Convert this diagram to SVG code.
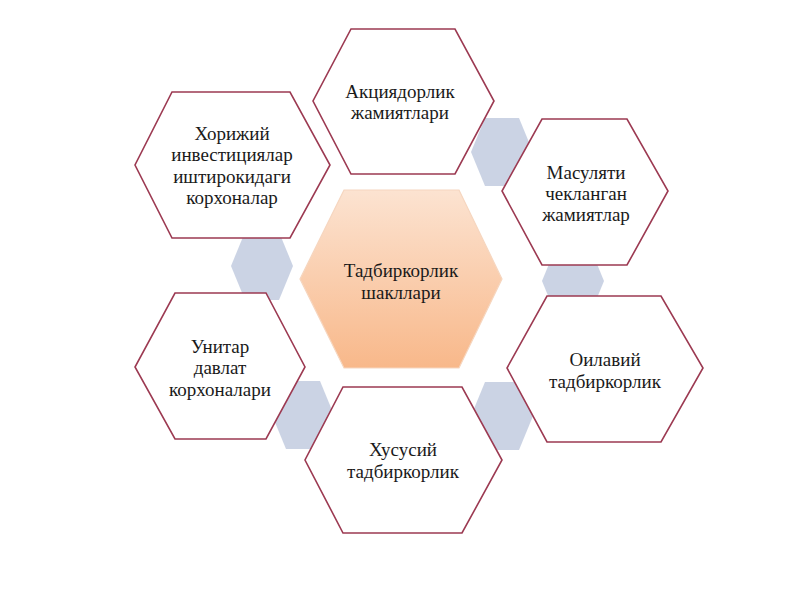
<svg xmlns="http://www.w3.org/2000/svg" width="800" height="600" viewBox="0 0 800 600">
  <defs>
    <linearGradient id="gc" x1="0" y1="0" x2="0" y2="1">
      <stop offset="0" stop-color="#fce3d1"/>
      <stop offset="1" stop-color="#f8b88a"/>
    </linearGradient>
    <polygon id="sh" points="-31,0 -17,-34 17,-34 31,0 17,34 -17,34"/>
  </defs>
  <style>
    .hx { fill: #ffffff; stroke: #9c3a52; stroke-width: 1.6; }
    .ctr { fill: url(#gc); stroke: #f6d6bf; stroke-width: 1.2; }
    .sm { fill: #cbd3e4; }
    text { font-family: "Liberation Serif", "Times New Roman", serif; font-size: 19px; fill: #1a1a1a; text-anchor: middle; }
  </style>
  <rect width="800" height="600" fill="#ffffff"/>
  <g id="connectors"/>
  <g id="spacers">
    <use href="#sh" class="sm" x="502" y="152"/>
    <use href="#sh" class="sm" x="573" y="281"/>
    <use href="#sh" class="sm" x="502" y="416"/>
    <use href="#sh" class="sm" x="303" y="415"/>
    <use href="#sh" class="sm" x="262" y="266"/>
  </g>
  <g id="node-center">
    <polygon class="ctr" points="344,190 459,190 502,279 459,368 344,368 300,279"/>
    <text x="401" y="277">Тадбиркорлик</text>
    <text x="401" y="299">шакллари</text>
  </g>
  <g id="node-aktsiyadorlik">
    <polygon class="hx" points="351,29 455,29 494,101 455,174 351,174 313,101"/>
    <text x="400" y="98">Акциядорлик</text>
    <text x="400" y="119">жамиятлари</text>
  </g>
  <g id="node-masulyati">
    <polygon class="hx" points="542,119 627,119 668,191 627,265 542,265 502,191"/>
    <text x="586" y="179">Масуляти</text>
    <text x="586" y="200">чекланган</text>
    <text x="586" y="221">жамиятлар</text>
  </g>
  <g id="node-oilaviy">
    <polygon class="hx" points="547,296 661,296 703,368 661,442 547,442 507,368"/>
    <text x="605" y="366">Оилавий</text>
    <text x="605" y="388">тадбиркорлик</text>
  </g>
  <g id="node-xususiy">
    <polygon class="hx" points="343,387 462,387 502,460 462,533 343,533 305,460"/>
    <text x="403" y="456">Хусусий</text>
    <text x="403" y="478">тадбиркорлик</text>
  </g>
  <g id="node-unitar">
    <polygon class="hx" points="175,293 266,293 305,367 266,439 175,439 135,367"/>
    <text x="220" y="353">Унитар</text>
    <text x="220" y="374">давлат</text>
    <text x="220" y="396">корхоналари</text>
  </g>
  <g id="node-xorijiy">
    <polygon class="hx" points="172,92 290,92 330,165 290,238 172,238 135,165"/>
    <text x="232" y="140">Хорижий</text>
    <text x="232" y="161">инвестициялар</text>
    <text x="232" y="183">иштирокидаги</text>
    <text x="232" y="204">корхоналар</text>
  </g>
</svg>
